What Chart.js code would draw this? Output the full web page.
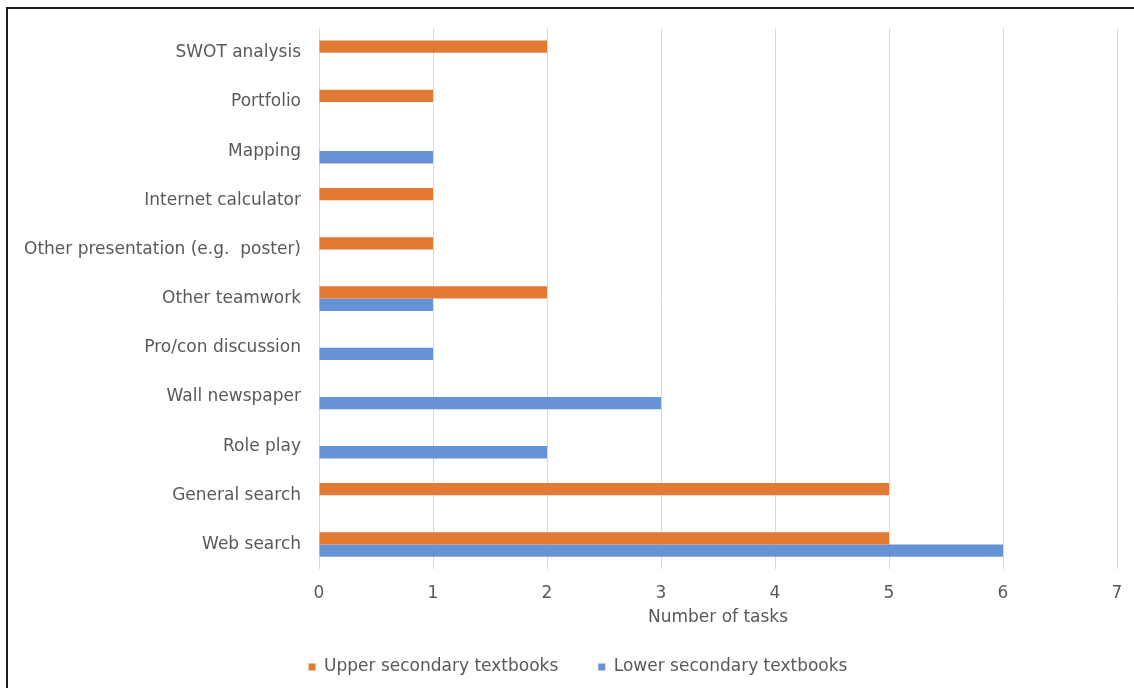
<!DOCTYPE html>
<html>
<head>
<meta charset="utf-8">
<script src="https://cdn.jsdelivr.net/npm/chart.js@4/dist/chart.umd.min.js"></script>
<style>
  html, body { margin: 0; padding: 0; background: #fff; }
  #wrap { position: relative; width: 1134px; height: 688px; overflow: hidden; }
  #frame { position: absolute; left: 6px; top: 7px; width: 1200px; height: 800px;
           border-left: 2px solid #1e1e1e; border-top: 2px solid #1e1e1e; pointer-events: none; }
  canvas { position: absolute; left: 0; top: 0; }
</style>
</head>
<body>
<div id="wrap">
  <canvas id="c" width="1134" height="688"></canvas>
  <div id="frame"></div>
</div>
<script>
const categories = [
  "SWOT analysis",
  "Portfolio",
  "Mapping",
  "Internet calculator",
  "Other presentation (e.g.  poster)",
  "Other teamwork",
  "Pro/con discussion",
  "Wall newspaper",
  "Role play",
  "General search",
  "Web search"
];
const upperSecondary = [2, 1, 0, 1, 1, 2, 0, 0, 0, 5, 5];
const lowerSecondary = [0, 0, 1, 0, 0, 1, 1, 3, 2, 0, 6];
const xTicks = [0, 1, 2, 3, 4, 5, 6, 7];
const seriesNames = ["Upper secondary textbooks", "Lower secondary textbooks"];
const axisTitle = "Number of tasks";

const FONT = "'DejaVu Sans', Verdana, sans-serif";
const TXT = "#595959";

// center the legend under the whole framed chart
const legendShift = {
  id: 'legendShift',
  afterLayout(chart) {
    const lg = chart.legend;
    if (!lg) return;
    const w = lg.right - lg.left;
    const c = 578;
    lg.left = c - w / 2;
    lg.right = c + w / 2;
  }
};

new Chart(document.getElementById('c'), {
  type: 'bar',
  data: {
    labels: categories,
    datasets: [
      { label: seriesNames[0], data: upperSecondary, backgroundColor: '#E27A33',
        categoryPercentage: 0.5, barPercentage: 1.0 },
      { label: seriesNames[1], data: lowerSecondary, backgroundColor: '#6692D6',
        categoryPercentage: 0.5, barPercentage: 1.0 }
    ]
  },
  plugins: [legendShift],
  options: {
    indexAxis: 'y',
    responsive: false,
    animation: false,
    devicePixelRatio: 1,
    layout: { padding: { left: 13, right: 17, top: 28, bottom: 2.5 } },
    plugins: {
      tooltip: { enabled: false },
      legend: {
        position: 'bottom',
        labels: {
          font: { family: FONT, size: 17 },
          color: TXT,
          boxWidth: 7,
          boxHeight: 7,
          padding: 40
        }
      }
    },
    scales: {
      x: {
        min: 0, max: 7,
        afterBuildTicks: (s) => { s.ticks = xTicks.map(v => ({ value: v })); },
        grid: { color: '#d9d9d9', drawTicks: false, lineWidth: 1 },
        border: { display: false },
        ticks: { font: { family: FONT, size: 17, lineHeight: 1.553 }, color: TXT, padding: 11 },
        title: { display: true, text: axisTitle, font: { family: FONT, size: 17 }, color: TXT,
                 padding: { top: -9.6, bottom: -9.7 } }
      },
      y: {
        grid: { display: false, drawTicks: false },
        border: { display: false },
        ticks: { font: { family: FONT, size: 17 }, color: TXT, padding: 18, autoSkip: false },
        afterFit: (s) => { s.width = 306; }
      }
    }
  }
});
</script>
</body>
</html>
